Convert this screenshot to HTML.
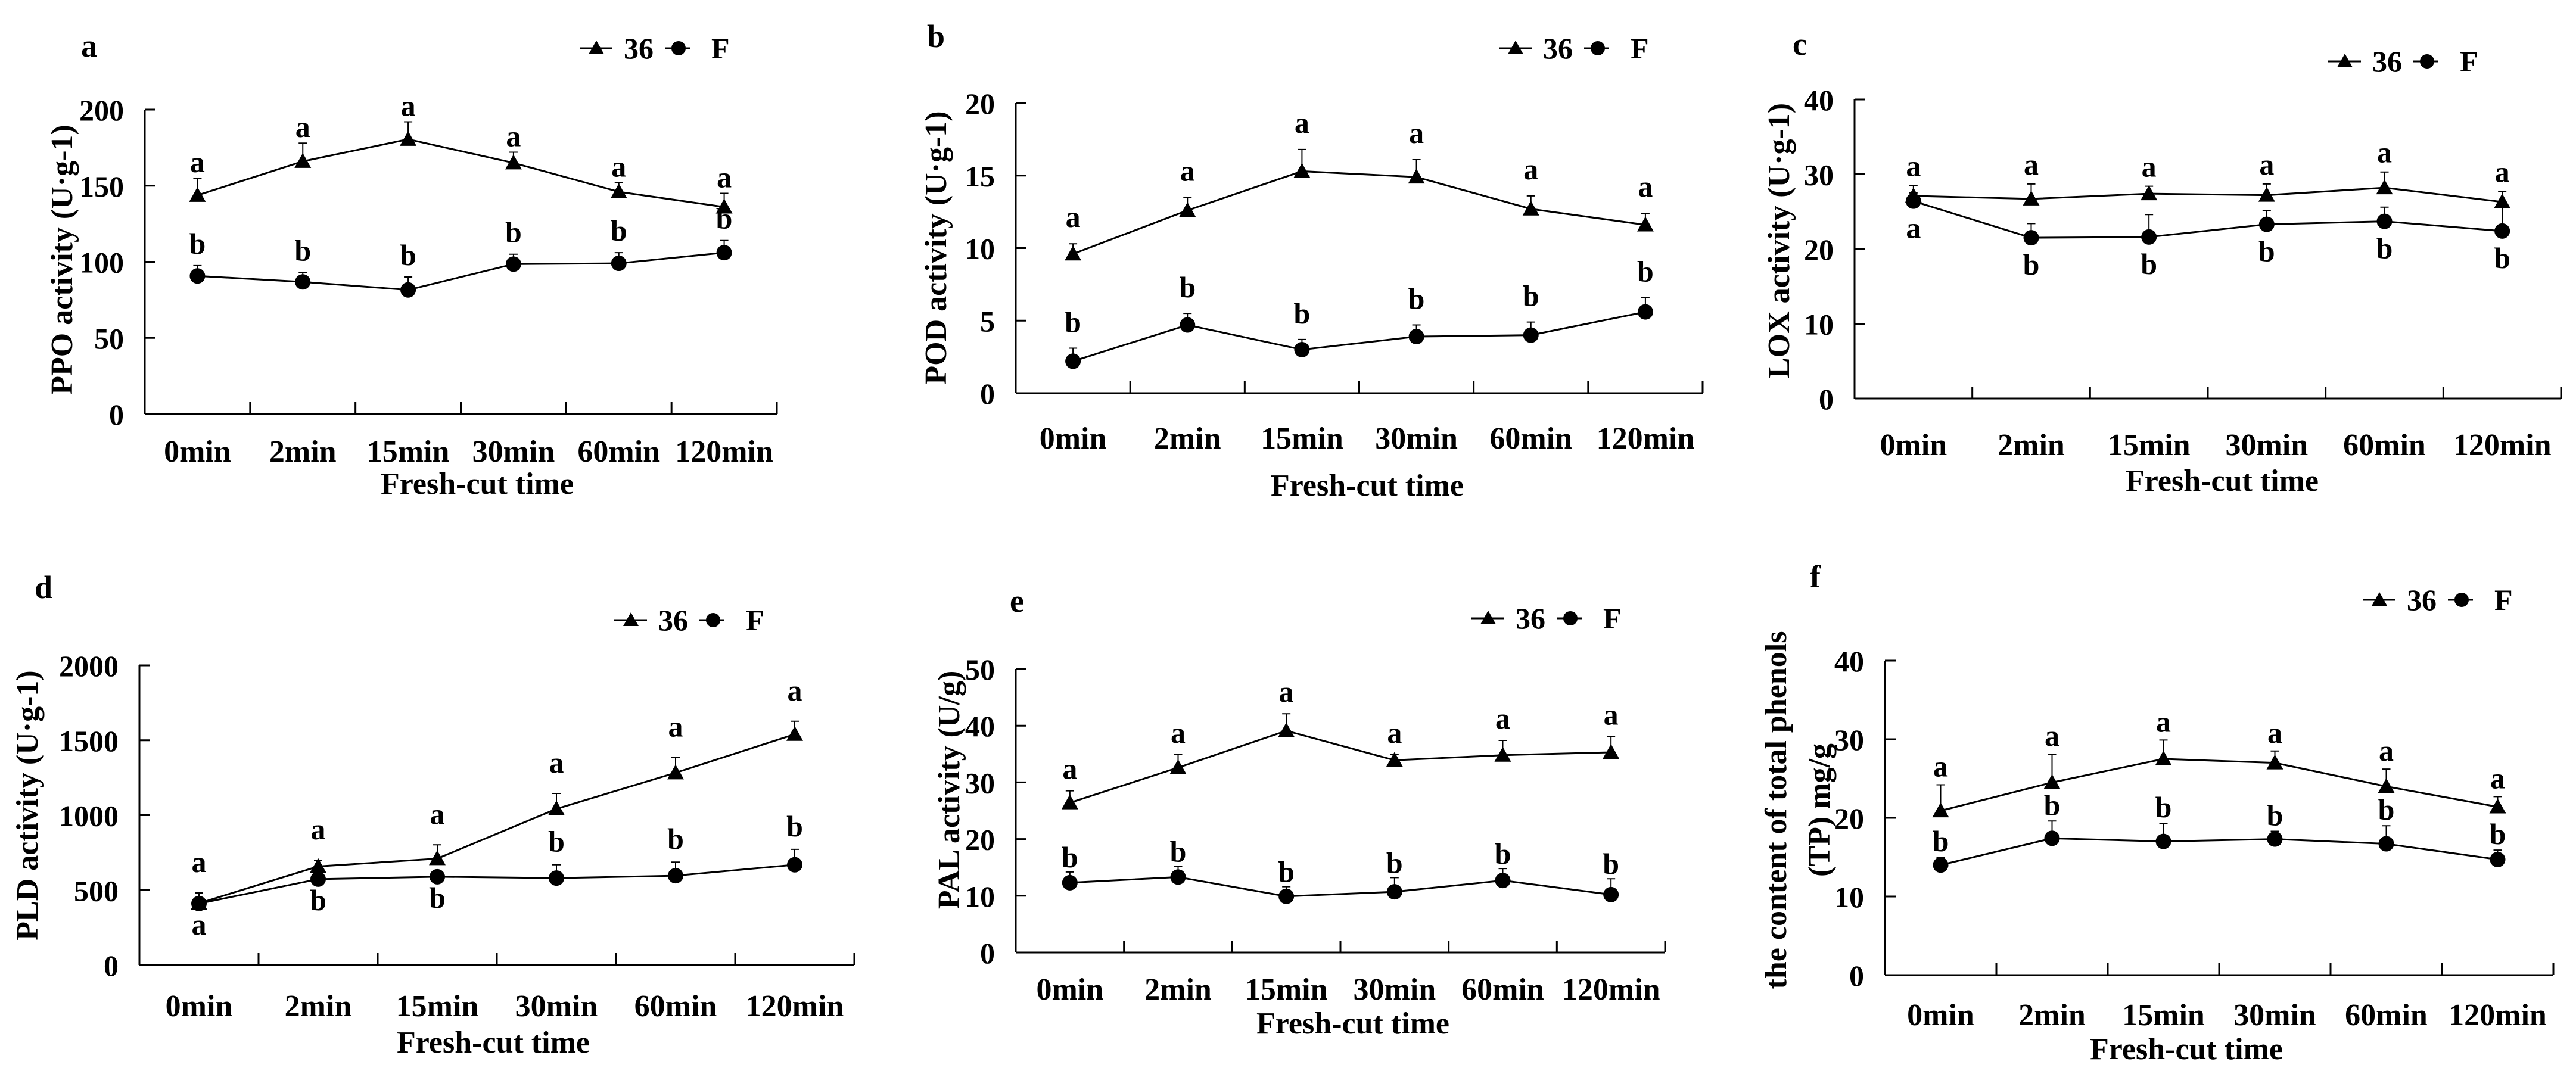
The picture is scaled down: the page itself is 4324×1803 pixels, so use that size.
<!DOCTYPE html>
<html><head><meta charset="utf-8">
<style>
html,body{margin:0;padding:0;background:#fff;}
svg{display:block;}
text{font-family:"Liberation Serif",serif;font-weight:bold;fill:#000;}
</style></head>
<body>
<svg id="fig" width="4324" height="1803" viewBox="0 0 4324 1803" xmlns="http://www.w3.org/2000/svg"></svg>
<script>
const categories = ["0min","2min","15min","30min","60min","120min"];

const ppo36 = [143.7,166,180.5,165,146,136];
const ppo36Err = [155,178,192,172,152,145];
const ppoF = [90.7,86.8,81.5,98.5,99,106];
const ppoFErr = [97.5,93,90,105,106,114];
const ppoLet36 = ["a","a","a","a","a","a"];
const ppoLetF = ["b","b","b","b","b","b"];

const pod36 = [9.6,12.6,15.3,14.9,12.7,11.6];
const pod36Err = [10.3,13.5,16.8,16.1,13.6,12.4];
const podF = [2.2,4.7,3.0,3.9,4.0,5.6];
const podFErr = [3.1,5.5,3.7,4.7,4.9,6.6];
const podLet36 = ["a","a","a","a","a","a"];
const podLetF = ["b","b","b","b","b","b"];

const lox36 = [27.1,26.7,27.4,27.2,28.2,26.3];
const lox36Err = [28.5,28.7,28.4,28.7,30.3,27.7];
const loxF = [26.4,21.5,21.6,23.3,23.7,22.4];
const loxFErr = [27.5,23.4,24.6,25.1,25.6,25.5];
const loxLet36 = ["a","a","a","a","a","a"];
const loxLetF = ["a","b","b","b","b","b"];

const pld36 = [412,658,710,1042,1283,1540];
const pld36Err = [481,700,802,1145,1386,1627];
const pldF = [410,573,589,580,596,669];
const pldFErr = [480,596,607,669,687,772];
const pldLet36 = ["a","a","a","a","a","a"];
const pldLetF = ["a","b","b","b","b","b"];

const pal36 = [26.4,32.6,39.1,33.9,34.8,35.3];
const pal36Err = [28.5,34.9,42.1,34.9,37.4,38.1];
const palF = [12.3,13.3,9.9,10.7,12.7,10.2];
const palFErr = [14.2,15.2,11.6,13.2,14.8,13.0];
const palLet36 = ["a","a","a","a","a","a"];
const palLetF = ["b","b","b","b","b","b"];

const tp36 = [20.9,24.5,27.5,27.0,24.0,21.4];
const tp36Err = [24.2,28.1,29.9,28.5,26.2,22.7];
const tpF = [14.0,17.4,17.0,17.3,16.7,14.7];
const tpFErr = [15.0,19.6,19.3,18.3,19.0,15.9];
const tpLet36 = ["a","a","a","a","a","a"];
const tpLetF = ["b","b","b","b","b","b"];

const panels = [
 {id:"a",x0:243,x1:1304,yTop:184,yBot:695,max:200,step:50,s36:ppo36,e36:ppo36Err,sF:ppoF,eF:ppoFErr,l36:ppoLet36,lF:ppoLetF,
  off36:10,offF:20,posF:["u","u","u","u","u","u"],below:60,
  lx:973,ly:81,px:136,py:95,xlab:775,tx:801,ty:829,yt:["PPO activity (U·g-1)"],ytx:[103],yty:436},
 {id:"b",x0:1705,x1:2858,yTop:173,yBot:660,max:20,step:5,s36:pod36,e36:pod36Err,sF:podF,eF:podFErr,l36:podLet36,lF:podLetF,
  off36:28,offF:27,posF:["u","u","u","u","u","u"],below:60,
  lx:2516,ly:81,px:1556,py:79,xlab:753,tx:2295,ty:832,yt:["POD activity (U·g-1)"],ytx:[1570],yty:416},
 {id:"c",x0:3113,x1:4299,yTop:167,yBot:669,max:40,step:10,s36:lox36,e36:lox36Err,sF:loxF,eF:loxFErr,l36:loxLet36,lF:loxLetF,
  off36:16,offF:20,posF:["d","d","d","d","d","d"],below:62,
  lx:3908,ly:103,px:3009,py:92,xlab:764,tx:3730,ty:824,yt:["LOX activity (U·g-1)"],ytx:[2985],yty:404},
 {id:"d",x0:234,x1:1434,yTop:1117,yBot:1620,max:2000,step:500,s36:pld36,e36:pld36Err,sF:pldF,eF:pldFErr,l36:pldLet36,lF:pldLetF,
  off36:35,offF:22,posF:["d","d","d","u","u","u"],below:52,
  lx:1031,ly:1041,px:58,py:1004,xlab:1706,tx:828,ty:1767,yt:["PLD activity (U·g-1)"],ytx:[45],yty:1352},
 {id:"e",x0:1705,x1:2795,yTop:1123,yBot:1599,max:50,step:10,s36:pal36,e36:pal36Err,sF:palF,eF:palFErr,l36:palLet36,lF:palLetF,
  off36:20,offF:8,posF:["u","u","u","u","u","u"],below:60,
  lx:2470,ly:1038,px:1695,py:1027,xlab:1678,tx:2271,ty:1735,yt:["PAL activity (U/g)"],ytx:[1592],yty:1326},
 {id:"f",x0:3164,x1:4286,yTop:1109,yBot:1637,max:40,step:10,s36:tp36,e36:tp36Err,sF:tpF,eF:tpFErr,l36:tpLet36,lF:tpLetF,
  off36:14,offF:10,posF:["u","u","u","u","u","u"],below:60,
  lx:3966,ly:1007,px:3038,py:986,xlab:1721,tx:3670,ty:1778,yt:["the content of total phenols","(TP) mg/g"],ytx:[2980,3053],yty:1360}
];

const NS="http://www.w3.org/2000/svg";
const svg=document.getElementById("fig");
function mk(tag,attrs,parent){const e=document.createElementNS(NS,tag);for(const k in attrs)e.setAttribute(k,attrs[k]);(parent||svg).appendChild(e);return e;}
function txt(str,attrs,parent){const t=mk("text",attrs,parent);t.textContent=str;return t;}

panels.forEach(p=>{
  const g=mk("g",{});
  
  
  const n=categories.length, bw=(p.x1-p.x0)/n;
  const xc=i=>p.x0+bw*(i+0.5);
  const ys=v=>p.yBot-(v/p.max)*(p.yBot-p.yTop);
  // axes
  const ya=mk("line",{x1:p.x0,y1:p.yTop,x2:p.x0,y2:p.yBot,stroke:"#000","stroke-width":3},g);
  
  
  const xa=mk("line",{x1:p.x0,y1:p.yBot,x2:p.x1,y2:p.yBot,stroke:"#000","stroke-width":3},g);
  
  
  for(let v=0;v<=p.max+1e-9;v+=p.step){
    const y=ys(v);
    if(v>0) mk("line",{x1:p.x0,y1:y,x2:p.x0+18,y2:y,stroke:"#000","stroke-width":3},g);
    const t=txt(String(v),{x:p.x0-35,y:y+18,"font-size":50,"text-anchor":"end"},g);
    
    
  }
  for(let i=1;i<=n;i++){
    const x=p.x0+bw*i;
    mk("line",{x1:x,y1:p.yBot,x2:x,y2:p.yBot-20,stroke:"#000","stroke-width":3},g);
  }
  categories.forEach((c,i)=>{
    const t=txt(c,{x:xc(i),y:p.xlab,"font-size":52,"text-anchor":"middle"},g);
    
    
  });
  const xt=txt("Fresh-cut time",{x:p.tx,y:p.ty,"font-size":52,"text-anchor":"middle"},g);
  
  
  p.yt.forEach((s,k)=>{
    const t=txt(s,{x:0,y:0,"font-size":52,"text-anchor":"middle",dy:"0.35em",transform:`translate(${p.ytx[k]},${p.yty}) rotate(-90)`},g);
    
    
  });
  const pl=txt(p.id,{x:p.px,y:p.py,"font-size":54},g);
  
  
  // series
  [[p.s36,p.e36,"tri"],[p.sF,p.eF,"dot"]].forEach(([vals,errs,kind])=>{
    const pts=vals.map((v,i)=>xc(i)+","+ys(v)).join(" ");
    const line=mk("polyline",{points:pts,fill:"none",stroke:"#000","stroke-width":3},g);
    
    
    vals.forEach((v,i)=>{
      const x=xc(i),y=ys(v),ye=ys(errs[i]);
      const eb=mk("path",{d:`M${x},${y}V${ye}M${x-7},${ye}H${x+7}`,stroke:"#000","stroke-width":2,fill:"none"},g);
      
      
      let m;
      if(kind==="tri") m=mk("polygon",{points:`${x},${y-14} ${x-14},${y+11} ${x+14},${y+11}`,fill:"#000"},g);
      else m=mk("circle",{cx:x,cy:y,r:13,fill:"#000"},g);
      
      
    });
  });
  // significance letters
  p.l36.forEach((L,i)=>{
    const t=txt(L,{x:xc(i),y:ys(p.e36[i])-p.off36,"font-size":50,"text-anchor":"middle"},g);
    
    
  });
  p.lF.forEach((L,i)=>{
    const y=p.posF[i]==="u"?ys(p.eF[i])-p.offF:ys(p.sF[i])+p.below;
    const t=txt(L,{x:xc(i),y:y,"font-size":50,"text-anchor":"middle"},g);
    
    
  });
  // legend
  const lg=mk("g",{},g);
  
  
  const lx=p.lx,ly=p.ly;
  mk("line",{x1:lx,y1:ly,x2:lx+55,y2:ly,stroke:"#000","stroke-width":3},lg);
  mk("polygon",{points:`${lx+28},${ly-13} ${lx+15},${ly+10} ${lx+41},${ly+10}`,fill:"#000"},lg);
  const t1=txt("36",{x:lx+74,y:ly+17,"font-size":50},lg);
  
  
  mk("line",{x1:lx+143,y1:ly,x2:lx+185,y2:ly,stroke:"#000","stroke-width":3},lg);
  mk("circle",{cx:lx+166,cy:ly,r:12,fill:"#000"},lg);
  const t2=txt("F",{x:lx+221,y:ly+17,"font-size":50},lg);
  
  
});
</script>
</body></html>
